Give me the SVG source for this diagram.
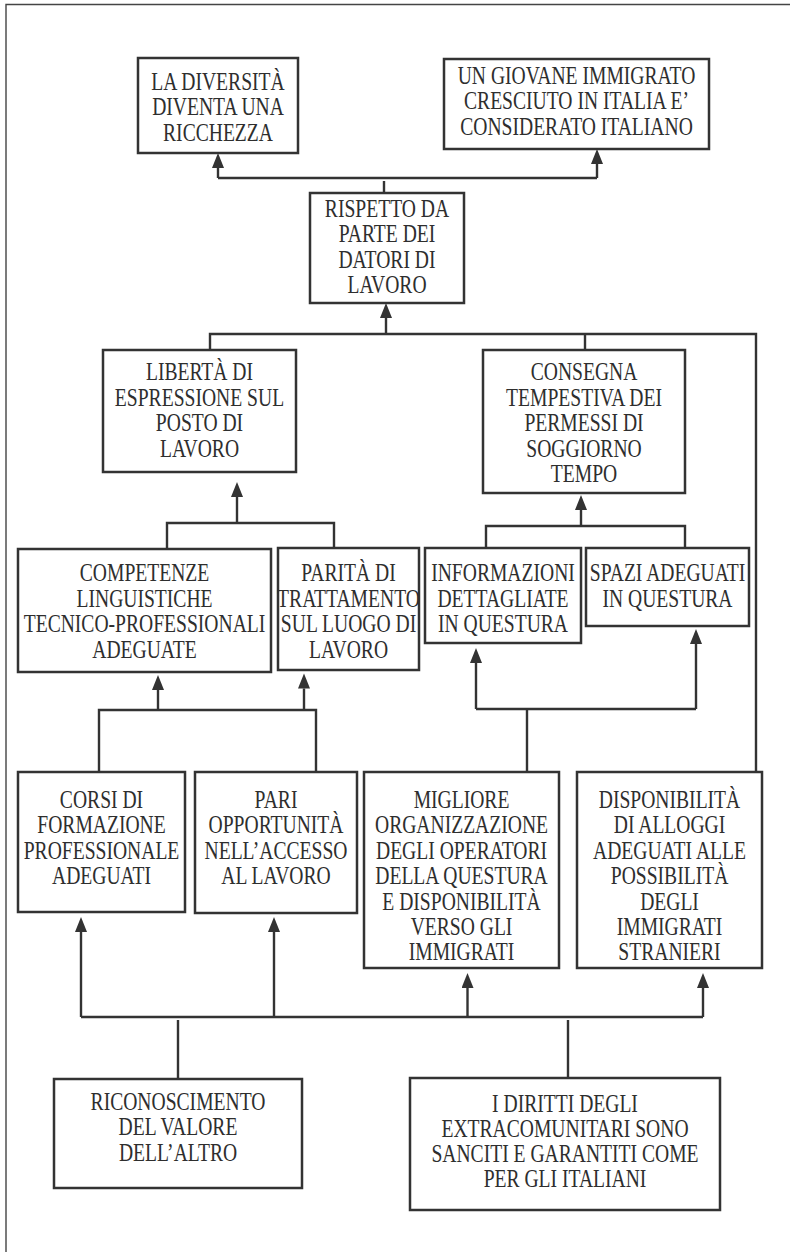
<svg xmlns="http://www.w3.org/2000/svg" width="790" height="1252" viewBox="0 0 790 1252">
<defs>
<style>
.box{fill:#fff;stroke:#333;stroke-width:2.5}
.t{font-family:"Liberation Serif","Times New Roman",serif;font-size:24.5px;fill:#2e2e2e;text-anchor:middle}
.c{fill:none;stroke:#333;stroke-width:2.4}
.frame{fill:none;stroke:#444;stroke-width:1.4}
</style>
<marker id="ah" markerUnits="userSpaceOnUse" markerWidth="16" markerHeight="12" refX="0" refY="6" orient="auto" viewBox="0 0 16 12">
<path d="M0,0 L15,6 L0,12 z" fill="#333"/>
</marker>
</defs>
<rect width="790" height="1252" fill="#fff"/>
<path class="frame" d="M6,1252 V4.5 H790"/>

<g id="connectors">
<path class="c" d="M384,193 V181 M218,178 H597"/>
<path class="c" marker-end="url(#ah)" d="M218,178 V168"/>
<path class="c" marker-end="url(#ah)" d="M597,178 V164"/>
<path class="c" d="M210,350 V334 H756 V772 M585,334 V350"/>
<path class="c" marker-end="url(#ah)" d="M386,334 V318"/>
<path class="c" d="M167,549 V523 H334 V548"/>
<path class="c" marker-end="url(#ah)" d="M237,523 V497"/>
<path class="c" d="M486,548 V526 H685 V548"/>
<path class="c" marker-end="url(#ah)" d="M581,526 V510"/>
<path class="c" d="M99,772 V710 H316 V772"/>
<path class="c" marker-end="url(#ah)" d="M158,710 V690"/>
<path class="c" marker-end="url(#ah)" d="M304,710 V688.5"/>
<path class="c" d="M527,772 V709 M476,709 H696"/>
<path class="c" marker-end="url(#ah)" d="M476,709 V663"/>
<path class="c" marker-end="url(#ah)" d="M696,709 V644"/>
<path class="c" d="M81,1017 H703 M178,1020 V1079 M568,1020 V1078"/>
<path class="c" marker-end="url(#ah)" d="M81,1017 V932"/>
<path class="c" marker-end="url(#ah)" d="M274,1017 V932"/>
<path class="c" marker-end="url(#ah)" d="M467.5,1017 V988"/>
<path class="c" marker-end="url(#ah)" d="M703,1017 V988"/>
</g>

<g id="nodeA">
<rect class="box" x="138" y="58" width="160" height="95"/>
<text class="t" transform="translate(218 0) scale(0.8 1)"><tspan x="0" y="90">LA DIVERSITÀ</tspan><tspan x="0" y="115.5">DIVENTA UNA</tspan><tspan x="0" y="141">RICCHEZZA</tspan></text>
</g>
<g id="nodeB">
<rect class="box" x="444" y="59" width="265" height="90"/>
<text class="t" transform="translate(576.5 0) scale(0.8 1)"><tspan x="0" y="84">UN GIOVANE IMMIGRATO</tspan><tspan x="0" y="109.5">CRESCIUTO IN ITALIA E’</tspan><tspan x="0" y="135">CONSIDERATO ITALIANO</tspan></text>
</g>
<g id="nodeC">
<rect class="box" x="310" y="193" width="154" height="110"/>
<text class="t" transform="translate(387 0) scale(0.8 1)"><tspan x="0" y="217">RISPETTO DA</tspan><tspan x="0" y="242.5">PARTE DEI</tspan><tspan x="0" y="268">DATORI DI</tspan><tspan x="0" y="293.5">LAVORO</tspan></text>
</g>
<g id="nodeD">
<rect class="box" x="103" y="350" width="193" height="122"/>
<text class="t" transform="translate(199.5 0) scale(0.8 1)"><tspan x="0" y="380.5">LIBERTÀ DI</tspan><tspan x="0" y="406">ESPRESSIONE SUL</tspan><tspan x="0" y="431.5">POSTO DI</tspan><tspan x="0" y="457">LAVORO</tspan></text>
</g>
<g id="nodeE">
<rect class="box" x="483" y="350" width="202" height="143"/>
<text class="t" transform="translate(584 0) scale(0.8 1)"><tspan x="0" y="380.5">CONSEGNA</tspan><tspan x="0" y="406">TEMPESTIVA DEI</tspan><tspan x="0" y="431.5">PERMESSI DI</tspan><tspan x="0" y="457">SOGGIORNO</tspan><tspan x="0" y="482.5">TEMPO</tspan></text>
</g>
<g id="nodeF">
<rect class="box" x="18" y="549" width="253" height="123"/>
<text class="t" transform="translate(144.5 0) scale(0.8 1)"><tspan x="0" y="581.5">COMPETENZE</tspan><tspan x="0" y="607">LINGUISTICHE</tspan><tspan x="0" y="632.5">TECNICO-PROFESSIONALI</tspan><tspan x="0" y="658">ADEGUATE</tspan></text>
</g>
<g id="nodeG">
<rect class="box" x="278" y="548" width="141" height="122"/>
<text class="t" transform="translate(348.5 0) scale(0.8 1)"><tspan x="0" y="581.5">PARITÀ DI</tspan><tspan x="0" y="607">TRATTAMENTO</tspan><tspan x="0" y="632.5">SUL LUOGO DI</tspan><tspan x="0" y="658">LAVORO</tspan></text>
</g>
<g id="nodeH">
<rect class="box" x="425" y="548" width="156" height="95"/>
<text class="t" transform="translate(503 0) scale(0.8 1)"><tspan x="0" y="581.5">INFORMAZIONI</tspan><tspan x="0" y="607">DETTAGLIATE</tspan><tspan x="0" y="632.5">IN QUESTURA</tspan></text>
</g>
<g id="nodeI">
<rect class="box" x="586" y="548" width="163" height="78"/>
<text class="t" transform="translate(667.5 0) scale(0.8 1)"><tspan x="0" y="581.5">SPAZI ADEGUATI</tspan><tspan x="0" y="607">IN QUESTURA</tspan></text>
</g>
<g id="nodeJ">
<rect class="box" x="18" y="772" width="167" height="140"/>
<text class="t" transform="translate(101.5 0) scale(0.8 1)"><tspan x="0" y="808">CORSI DI</tspan><tspan x="0" y="833.5">FORMAZIONE</tspan><tspan x="0" y="859">PROFESSIONALE</tspan><tspan x="0" y="884.5">ADEGUATI</tspan></text>
</g>
<g id="nodeK">
<rect class="box" x="195" y="772" width="162" height="141"/>
<text class="t" transform="translate(276 0) scale(0.8 1)"><tspan x="0" y="808">PARI</tspan><tspan x="0" y="833.5">OPPORTUNITÀ</tspan><tspan x="0" y="859">NELL’ACCESSO</tspan><tspan x="0" y="884.5">AL LAVORO</tspan></text>
</g>
<g id="nodeL">
<rect class="box" x="364" y="772" width="195" height="196"/>
<text class="t" transform="translate(461.5 0) scale(0.8 1)"><tspan x="0" y="808">MIGLIORE</tspan><tspan x="0" y="833.4">ORGANIZZAZIONE</tspan><tspan x="0" y="858.8">DEGLI OPERATORI</tspan><tspan x="0" y="884.2">DELLA QUESTURA</tspan><tspan x="0" y="909.6">E DISPONIBILITÀ</tspan><tspan x="0" y="935">VERSO GLI</tspan><tspan x="0" y="960.4">IMMIGRATI</tspan></text>
</g>
<g id="nodeM">
<rect class="box" x="577" y="772" width="185" height="196"/>
<text class="t" transform="translate(669.5 0) scale(0.8 1)"><tspan x="0" y="808">DISPONIBILITÀ</tspan><tspan x="0" y="833.4">DI ALLOGGI</tspan><tspan x="0" y="858.8">ADEGUATI ALLE</tspan><tspan x="0" y="884.2">POSSIBILITÀ</tspan><tspan x="0" y="909.6">DEGLI</tspan><tspan x="0" y="935">IMMIGRATI</tspan><tspan x="0" y="960.4">STRANIERI</tspan></text>
</g>
<g id="nodeN">
<rect class="box" x="54" y="1079" width="248" height="109"/>
<text class="t" transform="translate(178 0) scale(0.8 1)"><tspan x="0" y="1110">RICONOSCIMENTO</tspan><tspan x="0" y="1135.5">DEL VALORE</tspan><tspan x="0" y="1161">DELL’ALTRO</tspan></text>
</g>
<g id="nodeO">
<rect class="box" x="410" y="1078" width="310" height="132"/>
<text class="t" transform="translate(565 0) scale(0.8 1)"><tspan x="0" y="1112">I DIRITTI DEGLI</tspan><tspan x="0" y="1137">EXTRACOMUNITARI SONO</tspan><tspan x="0" y="1162">SANCITI E GARANTITI COME</tspan><tspan x="0" y="1187">PER GLI ITALIANI</tspan></text>
</g>
</svg>
